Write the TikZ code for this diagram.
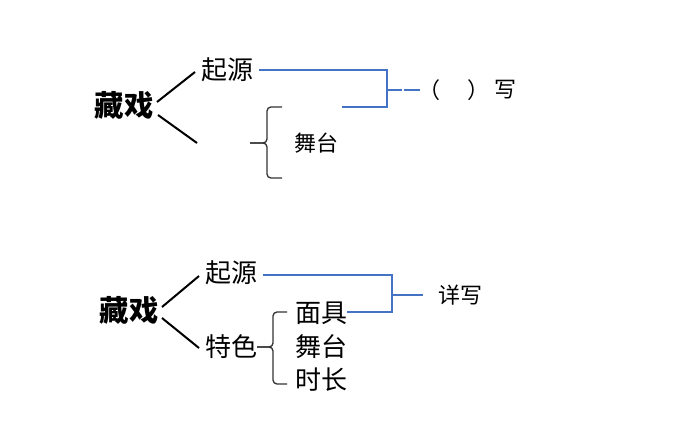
\documentclass[tikz,border=0pt]{standalone}
\usepackage{fontspec}
\setmainfont{Noto Sans CJK SC}
\definecolor{linkblue}{RGB}{68,114,196}
\begin{document}
\begin{tikzpicture}[x=0.75pt,y=-0.75pt,
  lbl/.style={inner sep=0pt, anchor=center},
  big/.style={lbl, font=\fontsize{22}{22}\selectfont\bfseries},
  mid/.style={lbl, font=\fontsize{19.5}{20}\selectfont},
  small/.style={lbl, font=\fontsize{16.5}{17}\selectfont},
  branch/.style={line width=1.5pt, black},
  blueline/.style={line width=0.8pt, color=linkblue},
  bracestyle/.style={line width=1pt, color=black!80, rounded corners=3pt}]
\useasboundingbox (0,0) rectangle (690,426);
\fill[white] (0,0) rectangle (690,426);

% ---------- top diagram ----------
\node[big] (z1) at (124,105) {藏戏};
\node[mid] (q1) at (227,70) {起源};
\node[small] (w1) at (316,143) {舞台};
\node[small] (p1) at (429,90) {（};
\node[small] (p2) at (478,90) {）};
\node[small] (x1) at (505,90) {写};

\coordinate (z1u) at (157,102);
\coordinate (z1d) at (158,115);
\coordinate (q1w) at (195,72);
\coordinate (e1) at (197,143);
\draw[branch] (z1u) -- (q1w);
\draw[branch] (z1d) -- (e1);

\coordinate (s1) at (259,70);
\coordinate (t1) at (342,107);
\coordinate (j1) at (387,90);
\coordinate (j1e) at (420,90);
\draw[blueline] (s1) -| (j1) |- (t1);
\draw[blueline, dash pattern=on 11.5pt off 1.5pt on 14pt off 10pt] (j1) -- (j1e);

\coordinate (bt1) at (282,107);
\coordinate (bm1) at (267,143);
\coordinate (bc1) at (250,143);
\coordinate (bb1) at (282,178);
\draw[bracestyle] (bt1) -| (bm1) -- (bc1);
\draw[bracestyle] (bc1) -- (bm1) |- (bb1);

% ---------- bottom diagram ----------
\node[big] (z2) at (129,310) {藏戏};
\node[mid] (q2) at (231,273) {起源};
\node[mid] (t2) at (231,347) {特色};
\node[mid] (m2) at (321,313) {面具};
\node[mid] (w2) at (321,347) {舞台};
\node[mid] (s2) at (321,380) {时长};
\node[small] (x2) at (460,295) {详写};

\coordinate (z2u) at (162,307);
\coordinate (z2d) at (162,318);
\coordinate (q2w) at (199,276);
\coordinate (t2w) at (199,348);
\draw[branch] (z2u) -- (q2w);
\draw[branch] (z2d) -- (t2w);

\coordinate (s2a) at (263,275);
\coordinate (m2e) at (347,312);
\coordinate (j2) at (392,295);
\coordinate (j2e) at (423,295);
\draw[blueline] (s2a) -| (j2) |- (m2e);
\draw[blueline] (j2) -- (j2e);

\coordinate (bt2) at (287,312);
\coordinate (bm2) at (273,347);
\coordinate (bc2) at (257,347);
\coordinate (bb2) at (287,384);
\draw[bracestyle] (bt2) -| (bm2) -- (bc2);
\draw[bracestyle] (bc2) -- (bm2) |- (bb2);
\end{tikzpicture}
\end{document}
